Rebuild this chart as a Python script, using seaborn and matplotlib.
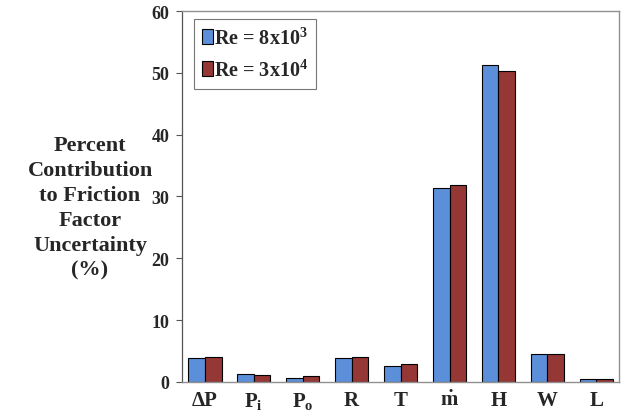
import matplotlib
matplotlib.use("Agg")
import matplotlib.pyplot as plt
import seaborn as sns
import pandas as pd

categories = ["ΔP", r"$\mathbf{P_i}$", r"$\mathbf{P_o}$", "R", "T", r"$\mathbf{\dot{m}}$", "H", "W", "L"]
series_names = [r"Re = 8x10$^{\mathbf{3}}$", r"Re = 3x10$^{\mathbf{4}}$"]
re_8e3 = [3.9, 1.3, 0.7, 3.9, 2.6, 31.4, 51.3, 4.6, 0.55]
re_3e4 = [4.05, 1.2, 1.0, 4.05, 2.85, 31.9, 50.3, 4.6, 0.5]
yticks = [0, 10, 20, 30, 40, 50, 60]
ylabel = "Percent\nContribution\nto Friction\nFactor\nUncertainty\n(%)"

sns.set_style("white")
plt.rcParams["font.family"] = ["Liberation Serif", "DejaVu Serif"]
plt.rcParams["font.weight"] = "bold"
plt.rcParams["mathtext.fontset"] = "custom"
plt.rcParams["mathtext.rm"] = "Liberation Serif:bold"
plt.rcParams["mathtext.bf"] = "Liberation Serif:bold"
plt.rcParams["mathtext.it"] = "Liberation Serif:bold"

df = pd.DataFrame({
    "cat": categories * 2,
    "val": re_8e3 + re_3e4,
    "series": [series_names[0]] * len(categories) + [series_names[1]] * len(categories),
})

fig = plt.figure(figsize=(6.23, 4.14), dpi=100)
ax = fig.add_axes([0.292, 0.075, 0.702, 0.896])
sns.barplot(data=df, x="cat", y="val", hue="series", order=categories,
            hue_order=series_names, palette=["#5B8FD9", "#953735"],
            width=0.68, edgecolor="black", linewidth=0.8, saturation=1, ax=ax)

ax.set_ylim(0, 60)
ax.set_xlim(-0.47, 8.47)
ax.set_yticks(yticks)
ax.set_yticklabels([str(t) for t in yticks], fontsize=13, fontweight="bold")
ax.set_xticklabels(categories, fontsize=15, fontweight="bold")
ax.tick_params(axis="y", left=True, length=4, width=0.8, color="#555555", pad=5)
ax.tick_params(axis="x", bottom=False, pad=2)
ax.set_xlabel("")
ax.set_ylabel("")
for s in ["top", "right", "bottom"]:
    ax.spines[s].set_color("#909090")
    ax.spines[s].set_linewidth(1.0)
ax.spines["left"].set_color("#555555")
ax.spines["left"].set_linewidth(0.9)

fig.text(0.1445, 0.497, ylabel, ha="center", va="center", fontsize=16,
         fontweight="bold", linespacing=1.33)

leg = ax.legend(loc="upper left", bbox_to_anchor=(0.027, 0.978), borderaxespad=0,
                frameon=True, fancybox=False, edgecolor="#555555",
                handlelength=0.55, handleheight=0.75, handletextpad=0.05,
                labelspacing=0.55, borderpad=0.4, prop={"weight": "bold", "size": 14.5})
leg.get_frame().set_linewidth(0.8)

fig.savefig("out.png", dpi=100)
